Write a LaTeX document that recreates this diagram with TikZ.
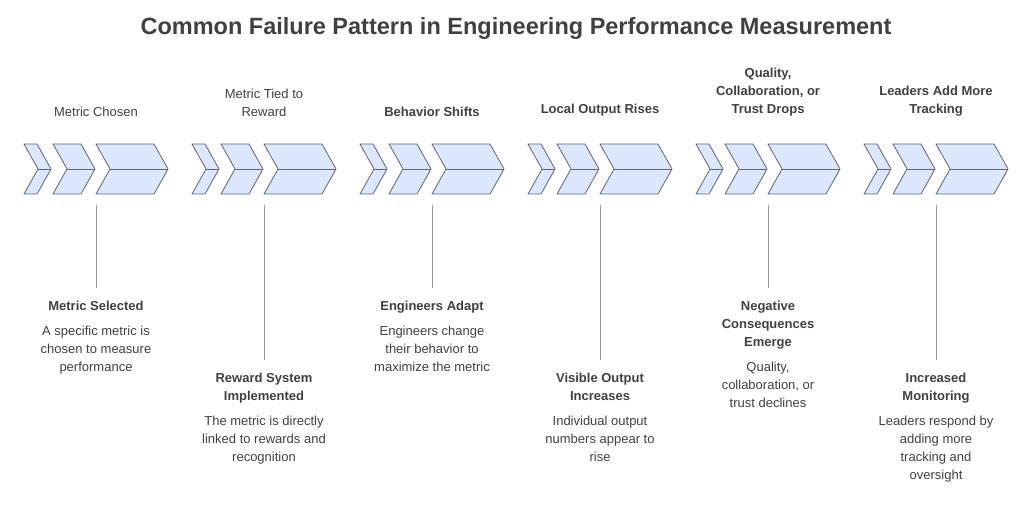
\documentclass[tikz,border=0pt]{standalone}
\usepackage{fontspec}
\setmainfont{Liberation Sans}
\definecolor{chevfill}{HTML}{DCE7FD}
\definecolor{chevline}{HTML}{5F6673}
\definecolor{txt}{HTML}{404040}
\tikzset{
  chev/.style={fill=chevfill,draw=chevline,line width=0.8pt,line join=round},
  stem/.style={draw=gray!80,line width=1pt},
  head/.style={align=center,font=\fontsize{13}{18}\selectfont,text=txt,anchor=south},
  box/.style={align=center,font=\fontsize{13}{18}\selectfont,text=txt,anchor=north}
}
\newcommand{\chevron}[3]{% left x, top-edge length, y center
  \draw[chev] (#1,#3-25) -- ++(#2,0) -- ++(14,25) -- ++(-14,25) -- ++(-#2,0) -- ++(14,-25) -- cycle;
  \draw[chev] (#1+14,#3) -- ++(#2,0);}
\begin{document}
\begin{tikzpicture}[x=1pt,y=-1pt]
  \useasboundingbox (0,0) rectangle (1032,510);
  \node (title) at (516,28) {\fontsize{23.5}{28}\selectfont\bfseries\color{txt}Common Failure Pattern in Engineering Performance Measurement};
  \foreach \i/\hd/\lo/\bd [count=\k from 0] in {%
    {Metric Chosen}/0/{\textbf{Metric Selected}\\[7pt]A specific metric is\\chosen to measure\\performance}/0,
    {Metric Tied to\\Reward}/1/{\textbf{Reward System}\\\textbf{Implemented}\\[7pt]The metric is directly\\linked to rewards and\\recognition}/0,
    {Behavior Shifts}/0/{\textbf{Engineers Adapt}\\[7pt]Engineers change\\their behavior to\\maximize the metric}/1,
    {Local Output Rises}/1/{\textbf{Visible Output}\\\textbf{Increases}\\[7pt]Individual output\\numbers appear to\\rise}/1,
    {Quality,\\Collaboration, or\\Trust Drops}/0/{\textbf{Negative}\\\textbf{Consequences}\\\textbf{Emerge}\\[7pt]Quality,\\collaboration, or\\trust declines}/1,
    {Leaders Add More\\Tracking}/1/{\textbf{Increased}\\\textbf{Monitoring}\\[7pt]Leaders respond by\\adding more\\tracking and\\oversight}/1}
  {
    \pgfmathsetmacro{\ox}{168*\k}
    \chevron{24+\ox}{13}{169}
    \chevron{53+\ox}{28}{169}
    \chevron{96+\ox}{58}{169}
    \ifnum\bd=1
      \node[head,font=\fontsize{13}{18}\selectfont\bfseries] (h\k) at (96+\ox,120) {\i};
    \else
      \node[head] (h\k) at (96+\ox,120) {\i};
    \fi
    \coordinate (s\k) at (96+\ox,205);
    \ifnum\hd=0
      \coordinate (e\k) at (96+\ox,288);
    \else
      \coordinate (e\k) at (96+\ox,360);
    \fi
    \draw[stem] (s\k) -- (e\k);
    \node[box] (b\k) at ([yshift=-10pt]e\k) {\lo};
  }
\end{tikzpicture}
\end{document}
